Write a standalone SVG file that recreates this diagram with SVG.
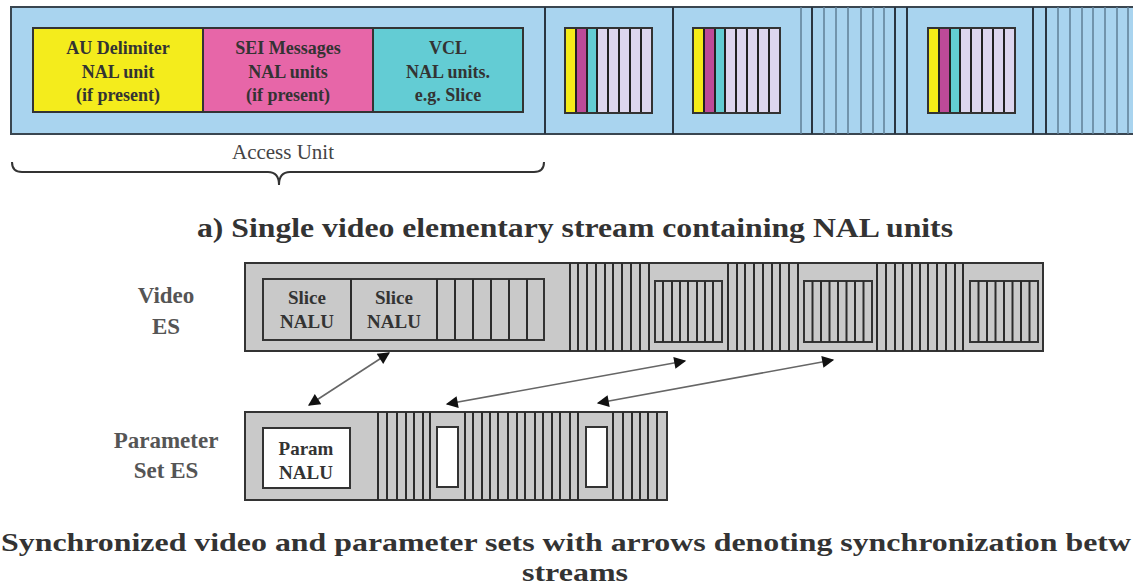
<svg xmlns="http://www.w3.org/2000/svg" width="1133" height="587" viewBox="0 0 1133 587">
<defs>
<style>
.t{font-family:"Liberation Serif","Times New Roman",serif;font-weight:bold;fill:#333;text-anchor:middle}
.lbl{font-family:"Liberation Serif","Times New Roman",serif;font-weight:bold;fill:#555;text-anchor:middle;font-size:23px}
.cap{font-family:"Liberation Serif","Times New Roman",serif;font-weight:bold;fill:#333;font-size:27px}
.capb{font-family:"Liberation Serif","Times New Roman",serif;font-weight:bold;fill:#333;font-size:25px}
.blue{fill:#a9d4ef;stroke:#3a4650;stroke-width:2}
.bl{stroke:#5f7f96;stroke-width:1.5}
.bd{stroke:#2a3540;stroke-width:2}
.gray{fill:#c9c9c9;stroke:#333;stroke-width:2}
.gl{stroke:#2b2b2b;stroke-width:2}
.wh{fill:#fff;stroke:#333;stroke-width:2}
.ar{stroke:#666;stroke-width:1.6;fill:none;marker-start:url(#ah);marker-end:url(#ah)}
</style>
<marker id="ah" viewBox="0 0 10 10" refX="9" refY="5" markerWidth="14" markerHeight="12" markerUnits="userSpaceOnUse" orient="auto-start-reverse">
<path d="M0,0 L10,5 L0,10 z" fill="#111"/>
</marker>
<g id="mini">
<rect x="0" y="0" width="87" height="85" fill="#ddd6ee"/>
<rect x="0" y="0" width="11" height="85" fill="#f5ec18"/>
<rect x="11" y="0" width="11" height="85" fill="#bd4a98"/>
<rect x="22" y="0" width="10" height="85" fill="#63cdd3"/>
<g stroke="#222" stroke-width="2">
<line x1="11" y1="0" x2="11" y2="85"/><line x1="22" y1="0" x2="22" y2="85"/><line x1="32" y1="0" x2="32" y2="85"/>
<line x1="43" y1="0" x2="43" y2="85"/><line x1="54" y1="0" x2="54" y2="85"/><line x1="65" y1="0" x2="65" y2="85"/><line x1="76" y1="0" x2="76" y2="85"/>
</g>
<rect x="0" y="0" width="87" height="85" fill="none" stroke="#333" stroke-width="2"/>
</g>
</defs>
<rect width="1133" height="587" fill="#fff"/>

<!-- Top stream -->
<g id="top-stream">
<rect class="blue" x="11" y="7" width="1130" height="127"/>
<g id="au1">
<rect x="33" y="28" width="170" height="84" fill="#f4ec1c" stroke="#333" stroke-width="2"/>
<rect x="203" y="28" width="170" height="84" fill="#e766a8" stroke="#333" stroke-width="2"/>
<rect x="373" y="28" width="150" height="84" fill="#63ccd4" stroke="#333" stroke-width="2"/>
<text class="t" font-size="18"><tspan x="118" y="54">AU Delimiter</tspan><tspan x="118" y="78">NAL unit</tspan><tspan x="118" y="101">(if present)</tspan></text>
<text class="t" font-size="18"><tspan x="288" y="54">SEI Messages</tspan><tspan x="288" y="78">NAL units</tspan><tspan x="288" y="101">(if present)</tspan></text>
<text class="t" font-size="18"><tspan x="448" y="54">VCL</tspan><tspan x="448" y="78">NAL units.</tspan><tspan x="448" y="101">e.g. Slice</tspan></text>
</g>
<g id="au-dividers">
<line class="bd" x1="545" y1="7" x2="545" y2="134"/>
<line class="bd" x1="673" y1="7" x2="673" y2="134"/>
<line class="bl" x1="801" y1="7" x2="801" y2="134"/>
<line class="bd" x1="812" y1="7" x2="812" y2="134"/>
<line class="bl" x1="824" y1="7" x2="824" y2="134"/>
<line class="bl" x1="836" y1="7" x2="836" y2="134"/>
<line class="bl" x1="848" y1="7" x2="848" y2="134"/>
<line class="bl" x1="861" y1="7" x2="861" y2="134"/>
<line class="bl" x1="873" y1="7" x2="873" y2="134"/>
<line class="bl" x1="884" y1="7" x2="884" y2="134"/>
<line class="bd" x1="895" y1="7" x2="895" y2="134"/>
<line class="bd" x1="907" y1="7" x2="907" y2="134"/>
<line class="bd" x1="1033" y1="7" x2="1033" y2="134"/>
<line class="bd" x1="1046" y1="7" x2="1046" y2="134"/>
<line class="bl" x1="1058" y1="7" x2="1058" y2="134"/>
<line class="bl" x1="1070" y1="7" x2="1070" y2="134"/>
<line class="bl" x1="1082" y1="7" x2="1082" y2="134"/>
<line class="bl" x1="1093" y1="7" x2="1093" y2="134"/>
<line class="bl" x1="1105" y1="7" x2="1105" y2="134"/>
<line class="bl" x1="1117" y1="7" x2="1117" y2="134"/>
<line class="bl" x1="1128" y1="7" x2="1128" y2="134"/>
</g>
<g id="au2"><use href="#mini" x="565" y="28"/></g>
<g id="au3"><use href="#mini" x="693" y="28"/></g>
<g id="au4"><use href="#mini" x="928" y="28"/></g>
</g>

<g id="access-unit">
<text x="283" y="159" font-family="Liberation Serif, serif" font-size="21" fill="#444" text-anchor="middle">Access Unit</text>
<path d="M12,162 Q12,172 22,172 L268,172 Q279,172 279,185 Q279,172 290,172 L534,172 Q544,172 544,162" fill="none" stroke="#333" stroke-width="2"/>
</g>

<text id="caption-a" class="cap" x="575" y="237" text-anchor="middle" textLength="756" lengthAdjust="spacingAndGlyphs">a) Single video elementary stream containing NAL units</text>

<!-- Video ES -->
<g id="video-label"><text class="lbl"><tspan x="166" y="303">Video</tspan><tspan x="166" y="334">ES</tspan></text></g>
<g id="video-es">
<rect class="gray" x="245" y="263" width="798" height="88"/>
<rect class="gray" x="263" y="279" width="281" height="61"/>
<g class="gl">
<line x1="351" y1="279" x2="351" y2="340"/><line x1="437" y1="279" x2="437" y2="340"/>
<line x1="455" y1="279" x2="455" y2="340"/><line x1="473" y1="279" x2="473" y2="340"/><line x1="491" y1="279" x2="491" y2="340"/><line x1="509" y1="279" x2="509" y2="340"/><line x1="527" y1="279" x2="527" y2="340"/>
</g>
<text class="t" font-size="19"><tspan x="307" y="304">Slice</tspan><tspan x="307" y="328">NALU</tspan></text>
<text class="t" font-size="19"><tspan x="394" y="304">Slice</tspan><tspan x="394" y="328">NALU</tspan></text>
<g class="gl">
<line x1="570" y1="263" x2="570" y2="351"/><line x1="578" y1="263" x2="578" y2="351"/><line x1="587" y1="263" x2="587" y2="351"/><line x1="596" y1="263" x2="596" y2="351"/><line x1="605" y1="263" x2="605" y2="351"/><line x1="613" y1="263" x2="613" y2="351"/><line x1="622" y1="263" x2="622" y2="351"/><line x1="631" y1="263" x2="631" y2="351"/><line x1="640" y1="263" x2="640" y2="351"/><line x1="649" y1="263" x2="649" y2="351"/>
<line x1="728" y1="263" x2="728" y2="351"/><line x1="737" y1="263" x2="737" y2="351"/><line x1="745" y1="263" x2="745" y2="351"/><line x1="754" y1="263" x2="754" y2="351"/><line x1="763" y1="263" x2="763" y2="351"/><line x1="772" y1="263" x2="772" y2="351"/><line x1="780" y1="263" x2="780" y2="351"/><line x1="789" y1="263" x2="789" y2="351"/><line x1="798" y1="263" x2="798" y2="351"/>
<line x1="877" y1="263" x2="877" y2="351"/><line x1="886" y1="263" x2="886" y2="351"/><line x1="895" y1="263" x2="895" y2="351"/><line x1="903" y1="263" x2="903" y2="351"/><line x1="912" y1="263" x2="912" y2="351"/><line x1="920" y1="263" x2="920" y2="351"/><line x1="928" y1="263" x2="928" y2="351"/><line x1="937" y1="263" x2="937" y2="351"/><line x1="946" y1="263" x2="946" y2="351"/><line x1="955" y1="263" x2="955" y2="351"/><line x1="963" y1="263" x2="963" y2="351"/>
</g>
<rect class="gray" x="655" y="281" width="67" height="61"/>
<rect class="gray" x="804" y="281" width="68" height="61"/>
<rect class="gray" x="970" y="281" width="68" height="61"/>
<g class="gl">
<line x1="663" y1="281" x2="663" y2="342"/><line x1="672" y1="281" x2="672" y2="342"/><line x1="680" y1="281" x2="680" y2="342"/><line x1="688" y1="281" x2="688" y2="342"/><line x1="697" y1="281" x2="697" y2="342"/><line x1="705" y1="281" x2="705" y2="342"/><line x1="713" y1="281" x2="713" y2="342"/>
<line x1="812.5" y1="281" x2="812.5" y2="342"/><line x1="821" y1="281" x2="821" y2="342"/><line x1="829.5" y1="281" x2="829.5" y2="342"/><line x1="838" y1="281" x2="838" y2="342"/><line x1="846.5" y1="281" x2="846.5" y2="342"/><line x1="855" y1="281" x2="855" y2="342"/><line x1="863.5" y1="281" x2="863.5" y2="342"/>
<line x1="978.5" y1="281" x2="978.5" y2="342"/><line x1="987" y1="281" x2="987" y2="342"/><line x1="995.5" y1="281" x2="995.5" y2="342"/><line x1="1004" y1="281" x2="1004" y2="342"/><line x1="1012.5" y1="281" x2="1012.5" y2="342"/><line x1="1021" y1="281" x2="1021" y2="342"/><line x1="1029.5" y1="281" x2="1029.5" y2="342"/>
</g>
</g>

<!-- Parameter Set ES -->
<g id="param-label"><text class="lbl"><tspan x="166" y="448">Parameter</tspan><tspan x="166" y="478">Set ES</tspan></text></g>
<g id="param-es">
<rect class="gray" x="245" y="412" width="422" height="88"/>
<rect class="wh" x="263" y="428" width="87" height="60"/>
<text class="t" font-size="19"><tspan x="306" y="455">Param</tspan><tspan x="306" y="479">NALU</tspan></text>
<g class="gl">
<line x1="378" y1="412" x2="378" y2="500"/><line x1="387" y1="412" x2="387" y2="500"/><line x1="397" y1="412" x2="397" y2="500"/><line x1="406" y1="412" x2="406" y2="500"/><line x1="414" y1="412" x2="414" y2="500"/><line x1="423" y1="412" x2="423" y2="500"/><line x1="430" y1="412" x2="430" y2="500"/>
<line x1="465" y1="412" x2="465" y2="500"/><line x1="473" y1="412" x2="473" y2="500"/><line x1="482" y1="412" x2="482" y2="500"/><line x1="490" y1="412" x2="490" y2="500"/><line x1="498" y1="412" x2="498" y2="500"/><line x1="508" y1="412" x2="508" y2="500"/><line x1="517" y1="412" x2="517" y2="500"/><line x1="525" y1="412" x2="525" y2="500"/><line x1="535" y1="412" x2="535" y2="500"/><line x1="543" y1="412" x2="543" y2="500"/><line x1="552" y1="412" x2="552" y2="500"/><line x1="560" y1="412" x2="560" y2="500"/><line x1="570" y1="412" x2="570" y2="500"/><line x1="578" y1="412" x2="578" y2="500"/>
<line x1="613" y1="412" x2="613" y2="500"/><line x1="623" y1="412" x2="623" y2="500"/><line x1="632" y1="412" x2="632" y2="500"/><line x1="640" y1="412" x2="640" y2="500"/><line x1="648" y1="412" x2="648" y2="500"/><line x1="657" y1="412" x2="657" y2="500"/>
</g>
<rect class="wh" x="437" y="427" width="21" height="60"/>
<rect class="wh" x="586" y="427" width="21" height="60"/>
</g>

<g id="connectors">
<line class="ar" x1="389" y1="353" x2="309" y2="405"/>
<line class="ar" x1="685" y1="361" x2="447" y2="404"/>
<line class="ar" x1="833" y1="360" x2="598" y2="403"/>
</g>

<g id="caption-b">
<text class="capb" x="1" y="551" textLength="1130" lengthAdjust="spacingAndGlyphs">Synchronized video and parameter sets with arrows denoting synchronization betw</text>
<text class="capb" x="575" y="581" text-anchor="middle" textLength="106" lengthAdjust="spacingAndGlyphs">streams</text>
</g>
</svg>
